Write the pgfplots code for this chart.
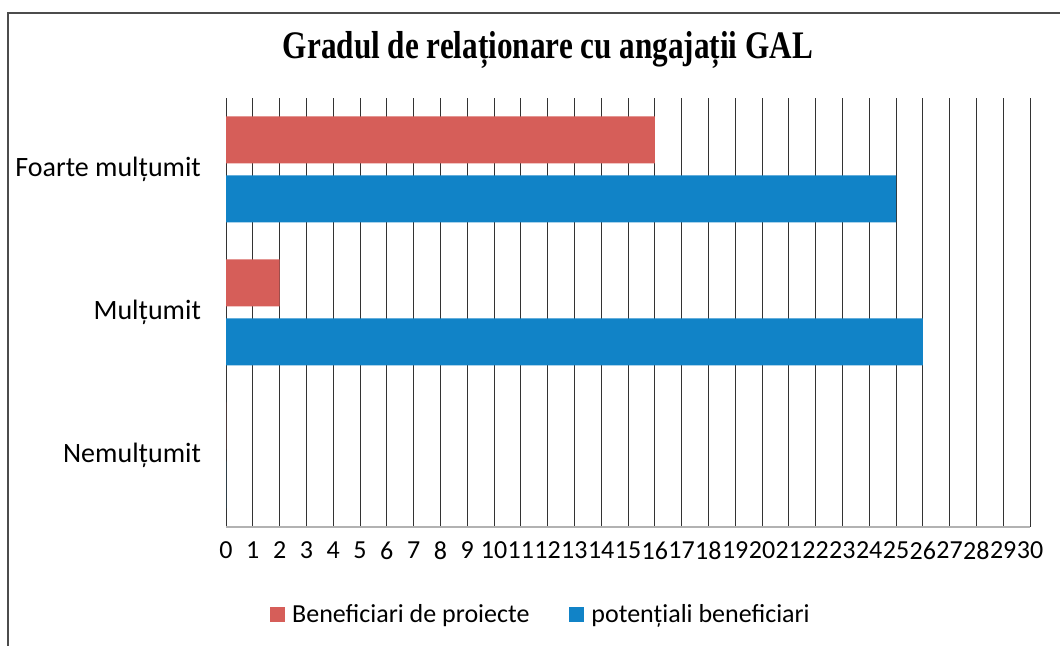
\documentclass[border=0pt]{standalone}
\usepackage{fontspec}
\setmainfont{Carlito}
\newfontfamily\titlefont{Liberation Serif}
\usepackage{graphicx}
\usepackage{pgfplots}
\pgfplotsset{compat=1.18}
\definecolor{benred}{RGB}{214,94,89}
\definecolor{potblue}{RGB}{17,131,199}
\begin{document}
\begin{tikzpicture}
\useasboundingbox (0,0) rectangle (530pt,323pt);
\draw[gray!60!black, line width=0.9pt] (4pt,-2pt) -- (4pt,316.5pt) -- (532pt,316.5pt);
\node at (274pt,298pt) {\titlefont\bfseries\fontsize{19.5}{22}\selectfont\scalebox{0.8}[1]{Gradul de relaționare cu angajații GAL}};
\begin{axis}[
    at={(113pt,59.5pt)}, anchor=south west,
    scale only axis,
    width=402pt, height=214.5pt,
    xbar,
    xmin=0, xmax=30,
    ymin=-0.5, ymax=2.5,
    xtick={0,1,...,30},
    ytick={0,1,2},
    yticklabels={Nemulțumit, Mulțumit, Foarte mulțumit},
    major tick length=0pt,
    xmajorgrids,
    grid style={black!80, line width=0.5pt},
    axis x line*=bottom,
    axis y line*=left,
    y axis line style={draw=none},
    x axis line style={black!30, line width=0.6pt, -},
    /pgf/number format/assume math mode=true,
    xticklabel style={font=\fontsize{13}{15}\selectfont, yshift=-4pt},
    yticklabel style={font=\fontsize{14}{16}\selectfont, xshift=-9pt},
    bar width=23.5pt,
    legend columns=2,
    legend style={at={(0.393,-0.205)}, anchor=center, draw=none,
        font=\fontsize{13}{15}\selectfont,
        /tikz/every odd column/.append style={column sep=1.5pt},
        /tikz/every even column/.append style={column sep=18pt}},
    legend image code/.code={\fill[#1] (0pt,-3.5pt) rectangle (7.5pt,4pt);},
]
\addplot[fill=benred, draw=none, bar shift=14.75pt] coordinates {(0,0) (2,1) (16,2)};
\addlegendentry{Beneficiari de proiecte}
\addplot[fill=potblue, draw=none, bar shift=-14.75pt] coordinates {(0,0) (26,1) (25,2)};
\addlegendentry{potențiali beneficiari}
\end{axis}
\end{tikzpicture}
\end{document}
